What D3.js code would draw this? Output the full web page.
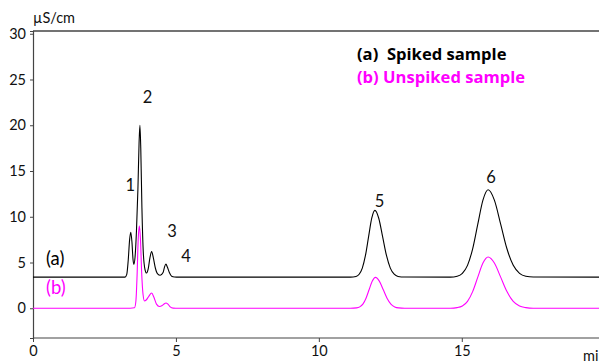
<!DOCTYPE html>
<html><head><meta charset="utf-8">
<script src="https://cdn.jsdelivr.net/npm/d3@7"></script>
<style>
html,body{margin:0;padding:0;background:#fff;}
svg{display:block;font-family:Lato,"Open Sans",sans-serif;}
</style></head>
<body><svg id="chart" width="599" height="361"></svg>
<script>
// ---- data ----
const spikedTime  = [0,3.0,3.22,3.28,3.33,3.38,3.42,3.46,3.50,3.53,3.57,3.62,3.67,3.71,3.74,3.77,3.81,3.86,3.92,3.97,4.03,4.09,4.15,4.21,4.28,4.36,4.45,4.55,4.60,4.65,4.70,4.77,4.85,4.95,5.1,
  11.0,11.1,11.30,11.41,11.52,11.63,11.74,11.85,11.96,12.095,12.23,12.365,12.5,12.635,12.77,13.0,
  14.6,14.84,15.02,15.2,15.38,15.56,15.74,15.92,16.14,16.36,16.58,16.8,17.02,17.24,17.5,19.8];
const spikedValue = [3.4,3.4,3.4,3.7,5.2,7.5,8.3,7.3,5.3,4.8,5.6,8.5,13,18,20,17.5,11,6,4.2,3.85,4.3,5.5,6.2,5.5,4.4,3.75,3.6,3.9,4.5,4.83,4.5,3.9,3.5,3.42,3.4,
  3.4,3.4,3.48,3.72,4.39,5.77,7.83,9.84,10.7,9.84,7.83,5.77,4.39,3.72,3.48,3.41,
  3.4,3.5,3.82,4.69,6.5,9.2,11.82,12.95,11.82,9.2,6.5,4.69,3.82,3.5,3.41,3.4];

const unspikedTime  = [0,3.4,3.55,3.6,3.64,3.68,3.72,3.76,3.80,3.85,3.90,3.96,4.05,4.15,4.23,4.32,4.42,4.52,4.60,4.65,4.72,4.80,4.90,5.1,
  11.1,11.32,11.43,11.54,11.65,11.76,11.87,11.98,12.115,12.25,12.385,12.52,12.655,12.79,13.0,
  14.6,14.84,15.02,15.2,15.38,15.56,15.74,15.92,16.14,16.36,16.58,16.8,17.02,17.24,17.5,19.8];
const unspikedValue = [0,0,0.05,0.8,3.5,7.5,9.0,7.5,4.0,1.5,0.8,0.9,1.3,1.66,1.2,0.45,0.2,0.3,0.5,0.57,0.45,0.15,0.02,0,
  0,0.04,0.15,0.45,1.10,2.05,2.97,3.37,2.97,2.05,1.10,0.45,0.15,0.04,0,
  0,0.07,0.25,0.76,1.82,3.40,4.94,5.6,4.94,3.40,1.82,0.76,0.25,0.07,0,0];

const peakLabels     = ["1","2","3","4","5","6"];
const peakLabelTime  = [3.40,4.01,4.86,5.35,12.12,16.02];
const peakLabelValue = [12.8,22.4,7.8,5.1,11.1,13.7];

const xTicks = [0,5,10,15];
const yTicks = [0,5,10,15,20,25,30];
const legendLabels = ["(a)\u00a0\u00a0Spiked sample","(b) Unspiked sample"];
const seriesTags = ["(a)","(b)"];
const colors = ["#000000","#ff00ff"];

// ---- layout ----
const svg = d3.select("#chart");
const mLeft = 33, mRight = 599, mTop = 31, mBottom = 338;
const x = d3.scaleLinear().domain([0,19.8]).range([mLeft,mRight]);
const y = d3.scaleLinear().domain([-3.25,30.3]).range([mBottom,mTop]);

// axes
const yAxis = d3.axisLeft(y).tickValues(yTicks).tickSize(3).tickPadding(4);
const gy = svg.append("g").attr("transform",`translate(${mLeft},0)`).call(yAxis);
gy.select(".domain").attr("stroke","#444").attr("stroke-width",1.2);
gy.selectAll(".tick line").attr("stroke","#444");
gy.selectAll(".tick text").attr("font-size",14.5).attr("fill","#111").attr("font-family","Lato,sans-serif");

const xAxis = d3.axisBottom(x).tickValues(xTicks).tickSize(4).tickPadding(4);
const gx = svg.append("g").attr("transform",`translate(0,${mBottom})`).call(xAxis);
gx.select(".domain").attr("stroke","#444").attr("stroke-width",1.2).attr("d",`M${mLeft},0H${mRight}`);
gx.selectAll(".tick line").attr("stroke","#444");
gx.selectAll(".tick text").attr("font-size",14.5).attr("fill","#111").attr("font-family","Lato,sans-serif");

// top frame
svg.append("line").attr("x1",mLeft).attr("x2",mRight).attr("y1",mTop).attr("y2",mTop)
  .attr("stroke","#444").attr("stroke-width",1.5);

// unit labels
svg.append("text").attr("x",33).attr("y",23).attr("font-size",14.5).attr("fill","#111").text("µS/cm");
svg.append("text").attr("x",583).attr("y",361).attr("font-size",14.5).attr("fill","#111").text("min");

// traces
const line = d3.line().x(d=>x(d[0])).y(d=>y(d[1])).curve(d3.curveMonotoneX);
const seriesData = [d3.zip(spikedTime,spikedValue), d3.zip(unspikedTime,unspikedValue)];
svg.append("g").selectAll("path").data(seriesData).join("path")
  .attr("d",line).attr("fill","none")
  .attr("stroke",(d,i)=>colors[i]).attr("stroke-width",1.1);

// series tags
const tagValue = [5.3,2.1];
svg.selectAll(".tag").data(seriesTags).join("text").attr("class","tag")
  .attr("x",46).attr("y",(d,i)=>y(tagValue[i])+5)
  .attr("font-size",18.5).attr("fill",(d,i)=>colors[i]).text(d=>d);

// peak labels
svg.selectAll(".pk").data(peakLabels).join("text").attr("class","pk")
  .attr("x",(d,i)=>x(peakLabelTime[i])).attr("y",(d,i)=>y(peakLabelValue[i]))
  .attr("text-anchor","middle").attr("font-size",16.5).attr("fill","#111").text(d=>d);

// legend
svg.selectAll(".lg").data(legendLabels).join("text").attr("class","lg")
  .attr("x",357).attr("y",(d,i)=>60+i*23)
  .attr("font-family","'Open Sans',sans-serif")
  .attr("font-size",16.6).attr("font-weight","bold").attr("fill",(d,i)=>colors[i]).text(d=>d);
</script></body></html>
